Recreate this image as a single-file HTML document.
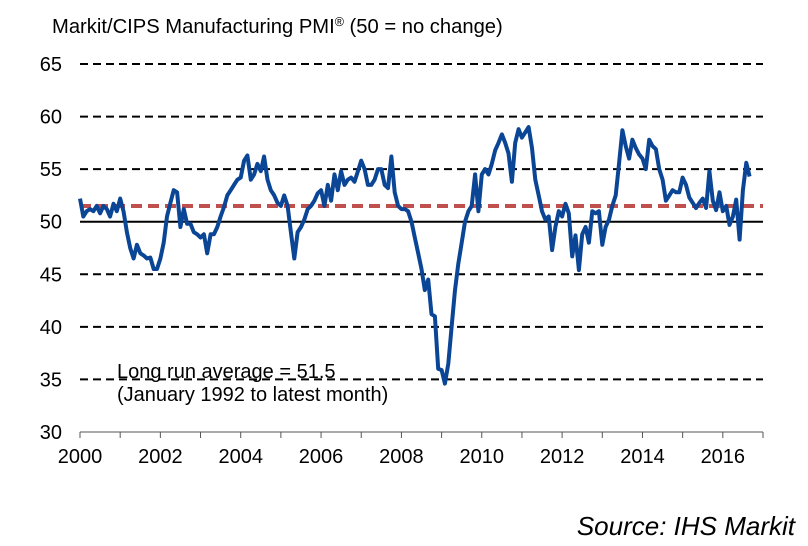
<!DOCTYPE html>
<html><head><meta charset="utf-8"><style>
html,body{margin:0;padding:0;background:#fff;}
svg{display:block;font-family:"Liberation Sans",Arial,sans-serif;}
</style></head><body>
<svg id="chart" width="808" height="546" viewBox="0 0 808 546">
<text x="52" y="33" font-size="20.2" fill="#000">Markit/CIPS Manufacturing PMI<tspan font-size="12.5" dy="-7">®</tspan><tspan dy="7"> (50 = no change)</tspan></text>
<g id="grid"></g>
<g id="yticks"></g>
<g id="xaxis"></g>
<g id="series"></g>
<text x="117" y="378" font-size="20">Long run average = 51.5</text>
<text x="117" y="401" font-size="20">(January 1992 to latest month)</text>
<text x="795" y="535" font-size="26" font-style="italic" text-anchor="end">Source: IHS Markit</text>
</svg>
<script>
const yTicks=[30,35,40,45,50,55,60,65];
const xTickLabels=[2000,2002,2004,2006,2008,2010,2012,2014,2016];
const startYear=2000;
const longRunAverage=51.5;
const pmi=[
52.2,50.5,51,51.2,51,51.5,50.8,51.5,51.2,50.5,51.7,51,
52.2,51,49,47.5,46.5,47.8,47,46.8,46.5,46.6,45.5,45.5,
46.5,48,50.5,51.8,53,52.8,49.5,51.2,49.8,49.8,49,48.8,
48.5,48.8,47,48.8,48.8,49.5,50.5,51.4,52.5,53,53.5,54,
54.2,55.8,56.3,54,54.5,55.5,54.8,56.2,54,53,52.5,51.8,
51.5,52.5,51.5,49,46.5,49,49.5,50.2,51.2,51.5,52,52.7,
53,51.5,53.5,52,54.5,53,54.8,53.5,54,54.2,53.8,54.8,
55.8,55,53.5,53.5,54,55,55,53.5,53.2,56.2,52.8,51.5,
51.2,51.2,51,50,48.5,47,45.5,43.5,44.5,41.2,41,36,
35.9,34.6,36.5,40,43.5,46,48,50,51,51.5,54.5,51,
54.5,55,54.5,55.5,56.8,57.5,58.3,57.5,56.5,53.8,57.5,58.8,
58,58.5,59,57,54,52.5,51,50.2,50.5,47.3,49.5,51,
50.5,51.7,50.8,46.7,48.7,45.4,48.8,49.5,48,51,50.8,51,
47.8,49.5,50.2,51.5,52.5,55.5,58.7,57.2,56,57.8,57,56.4,
56,55,57.8,57.2,56.9,55,54,52,52.5,53,52.8,52.8,
54.2,53.5,52.3,51.8,51.3,51.8,52.2,51.3,54.8,52,51.1,52.8,
51,51.5,49.7,50.5,52.1,48.3,53,55.6,54.3
];
const svgNS="http://www.w3.org/2000/svg";
const X0=80,X1=763,Y0=432,Ytop=64;
function xs(yr){return X0+(yr-startYear)*(X1-X0)/17;}
function ys(v){return Y0-(v-30)*(Y0-Ytop)/35;}
function mk(tag,attrs,parent){const e=document.createElementNS(svgNS,tag);for(const k in attrs)e.setAttribute(k,attrs[k]);parent.appendChild(e);return e;}
const grid=document.getElementById('grid'),yt=document.getElementById('yticks'),xa=document.getElementById('xaxis'),ser=document.getElementById('series');
yTicks.forEach(v=>{
  if(v>30){
    const l=mk('line',{x1:X0,x2:X1,y1:ys(v),y2:ys(v),stroke:'#000','stroke-width':2,'stroke-dasharray':v===50?'none':'8,5'},grid);
    
    
  }
  const t=mk('text',{x:62,y:ys(v)+7,'font-size':20,'text-anchor':'end'},yt);
  t.textContent=v;
  
  
});
const ax=mk('line',{x1:X0,x2:X1,y1:Y0,y2:Y0,stroke:'#555','stroke-width':1},xa);


for(let y=0;y<=17;y++){
  const tk=mk('line',{x1:xs(startYear+y),x2:xs(startYear+y),y1:Y0,y2:Y0+6,stroke:'#555','stroke-width':1},xa);
  
  
}
xTickLabels.forEach(yr=>{
  const t=mk('text',{x:xs(yr),y:Y0+31,'font-size':20,'text-anchor':'middle'},xa);
  t.textContent=yr;
  
  
});
const pts=pmi.map((v,i)=>xs(startYear+i/12).toFixed(1)+','+ys(v).toFixed(1)).join(' ');
const avg=mk('line',{x1:X0,x2:X1,y1:ys(longRunAverage),y2:ys(longRunAverage),stroke:'#c0504d','stroke-width':4,'stroke-dasharray':'11,6'},ser);


const pl=mk('polyline',{points:pts,fill:'none',stroke:'#0b4595','stroke-width':4,'stroke-linejoin':'round'},ser);


</script>
</body></html>
